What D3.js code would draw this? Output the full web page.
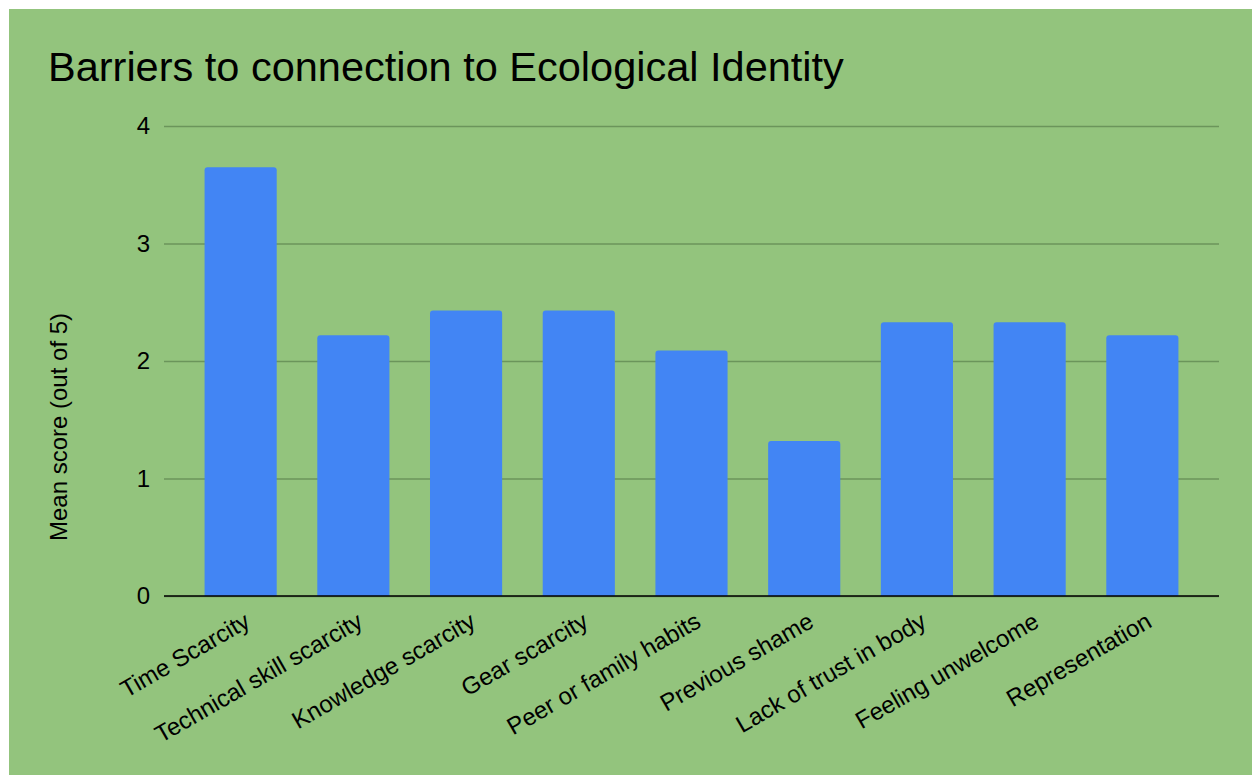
<!DOCTYPE html>
<html>
<head>
<meta charset="utf-8">
<script src="https://cdn.jsdelivr.net/npm/d3@7"></script>
<style>
  html, body { margin: 0; padding: 0; background: #fff; }
  svg { display: block; font-family: Arial, "Liberation Sans", sans-serif; }
</style>
</head>
<body>
<div id="chart"></div>
<script>
// Barriers to connection — mean scores, one bar per barrier
const categories = [
  'Time Scarcity', 'Technical skill scarcity', 'Knowledge scarcity', 'Gear scarcity',
  'Peer or family habits', 'Previous shame', 'Lack of trust in body',
  'Feeling unwelcome', 'Representation'
];
const meanScores = [3.65, 2.22, 2.43, 2.43, 2.09, 1.32, 2.33, 2.33, 2.22];
const yTicks = [0, 1, 2, 3, 4];

const W = 1252, H = 775;
const M = { top: 126, right: 33, bottom: 179, left: 164 };
const BG = '#93c47d', BAR = '#4285f4', GRID = '#6b955b';
const LABEL_PX = '24px';

const svg = d3.select('#chart').append('svg').attr('width', W).attr('height', H);
svg.append('rect').attr('x', 9).attr('y', 9).attr('width', W - 9).attr('height', H - 9).attr('fill', BG);

const innerW = W - M.left - M.right, innerH = H - M.top - M.bottom;
const inner = svg.append('g').attr('transform', `translate(${M.left},${M.top})`);

const x = d3.scaleBand().domain(categories).range([0, innerW]).paddingInner(0.36).paddingOuter(0.36);
const y = d3.scaleLinear().domain([0, 4]).range([innerH, 0]);

// title
svg.append('text')
  .attr('x', 48).attr('y', 81)
  .style('font-size', '41.5px').style('fill', '#000')
  .text('Barriers to connection to Ecological Identity');

// y axis + gridlines
const gy = inner.append('g').call(d3.axisLeft(y).tickValues(yTicks).tickSize(-innerW).tickPadding(14).tickFormat(d3.format('d')));
gy.select('.domain').remove();
gy.selectAll('.tick line').attr('stroke', GRID).attr('stroke-width', 1.5);
gy.selectAll('.tick text').style('font-size', LABEL_PX).style('fill', '#000').style('font-family', 'inherit');

inner.append('text')
  .attr('transform', `translate(${67 - M.left},${427 - M.top}) rotate(-90)`)
  .attr('text-anchor', 'middle')
  .style('font-size', LABEL_PX)
  .text('Mean score (out of 5)');

// bars with rounded top corners
const r = 3;
inner.selectAll('path.bar').data(categories).join('path')
  .attr('class', 'bar')
  .attr('fill', BAR)
  .attr('d', (c, i) => {
    const x0 = x(c), x1 = x0 + x.bandwidth(), yt = y(meanScores[i]), yb = y(0);
    return `M${x0},${yb}V${yt + r}Q${x0},${yt} ${x0 + r},${yt}H${x1 - r}Q${x1},${yt} ${x1},${yt + r}V${yb}Z`;
  });

// baseline
inner.append('line')
  .attr('x1', 0).attr('x2', innerW).attr('y1', y(0)).attr('y2', y(0))
  .attr('stroke', '#000').attr('stroke-width', 1.5);

// x axis labels, rotated
const gx = inner.append('g').attr('transform', `translate(0,${innerH})`)
  .call(d3.axisBottom(x).tickSize(0));
gx.select('.domain').remove();
gx.selectAll('.tick text')
  .attr('x', 0).attr('y', 0).attr('dy', 0)
  .attr('text-anchor', 'end')
  .attr('transform', 'translate(11,30) rotate(-30)')
  .style('font-size', LABEL_PX).style('fill', '#000').style('font-family', 'inherit');
</script>
</body>
</html>
